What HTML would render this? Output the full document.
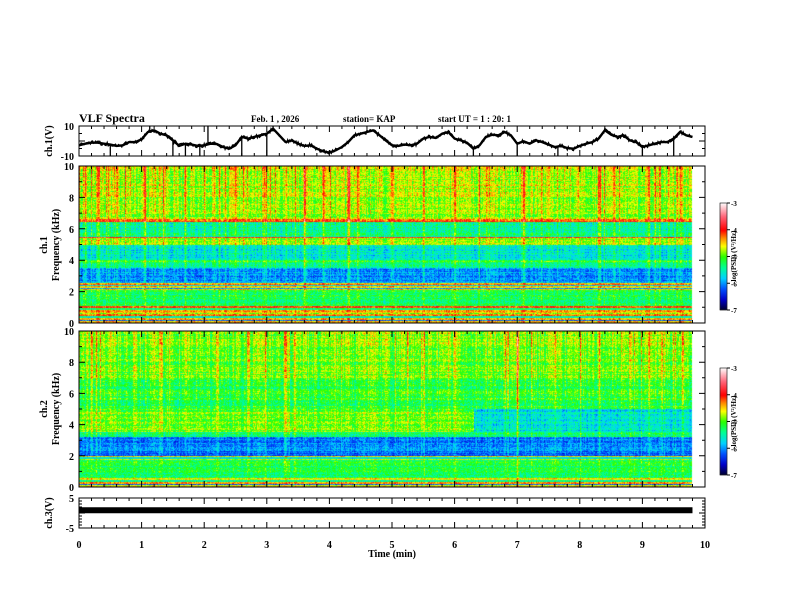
<!DOCTYPE html>
<html><head><meta charset="utf-8"><style>
html,body{margin:0;padding:0;background:#fff;}
#wrap{position:relative;width:792px;height:612px;overflow:hidden;}
canvas,svg{position:absolute;left:0;top:0;}
text{font-family:"Liberation Serif",serif;font-weight:bold;fill:#000;}
</style></head><body>
<div id="wrap">
<canvas id="cv" width="792" height="612"></canvas>
<svg id="sv" width="792" height="612" xmlns="http://www.w3.org/2000/svg">
<text x="79" y="122" font-size="12">VLF Spectra</text>
<text x="251" y="122" font-size="9">Feb. 1 , 2026</text>
<text x="343" y="122" font-size="9">station= KAP</text>
<text x="438" y="122" font-size="9">start UT =  1 : 20: 1</text>
<text transform="translate(52,141) rotate(-90)" text-anchor="middle" font-size="10">ch.1(V)</text>
<text transform="translate(47,245) rotate(-90)" text-anchor="middle" font-size="10">ch.1</text>
<text transform="translate(59,245) rotate(-90)" text-anchor="middle" font-size="10">Frequency (kHz)</text>
<text transform="translate(47,409) rotate(-90)" text-anchor="middle" font-size="10">ch.2</text>
<text transform="translate(59,409) rotate(-90)" text-anchor="middle" font-size="10">Frequency (kHz)</text>
<text transform="translate(52,513) rotate(-90)" text-anchor="middle" font-size="10">ch.3(V)</text>
<text x="392" y="557" text-anchor="middle" font-size="10">Time (min)</text>
<text transform="translate(736,256) rotate(-90)" text-anchor="middle" font-size="7">log(PSD) (V²/Hz)</text>
<text transform="translate(736,421) rotate(-90)" text-anchor="middle" font-size="7">log(PSD) (V²/Hz)</text>
<g id="dyn"></g>
</svg>
</div>
<script>
// ---------- data ----------
const ch1Times = [0,0.1,0.2,0.3,0.4,0.5,0.6,0.7,0.8,0.9,1.0,1.1,1.2,1.3,1.4,1.5,1.6,1.7,1.8,1.9,2.0,2.1,2.2,2.3,2.4,2.5,2.6,2.7,2.8,2.9,3.0,3.1,3.2,3.3,3.4,3.5,3.6,3.7,3.8,3.9,4.0,4.1,4.2,4.3,4.4,4.5,4.6,4.7,4.8,4.9,5.0,5.1,5.2,5.3,5.4,5.5,5.6,5.7,5.8,5.9,6.0,6.1,6.2,6.3,6.4,6.5,6.6,6.7,6.8,6.9,7.0,7.1,7.2,7.3,7.4,7.5,7.6,7.7,7.8,7.9,8.0,8.1,8.2,8.3,8.4,8.5,8.6,8.7,8.8,8.9,9.0,9.1,9.2,9.3,9.4,9.5,9.6,9.7,9.8];
const ch1Volts = [-2.9,-1.8,-1.1,-1.1,-1.8,-2.4,-3.3,-2.9,-0.7,-0.7,1.1,6.0,7.1,4.9,3.8,0.4,-3.3,-1.8,-2.4,-3.3,-2.9,-1.8,-2.0,-4.0,-5.1,-2.9,2.7,1.6,2.7,3.8,4.9,8.2,3.8,-0.7,0.4,-1.8,-3.3,-2.9,-5.1,-6.9,-7.8,-6.2,-4.0,-0.7,3.8,4.9,6.0,7.1,3.8,0.4,-2.9,-3.3,-2.4,-2.9,-1.8,1.6,2.7,2.0,4.9,6.0,1.6,0.4,-1.1,-5.1,-2.9,2.7,4.2,3.8,6.0,3.8,-1.8,-0.2,-1.8,0.4,-0.7,-2.4,-4.0,-3.3,-4.7,-5.1,-3.3,-1.8,-0.7,1.6,7.1,4.2,2.7,3.8,0.4,-0.7,-4.0,-2.9,-1.8,-0.7,-0.7,1.6,6.0,3.8,2.7];
const ch1SpikeTimes = [0.5,1.13,1.5,1.7,1.93,2.06,2.6,3.0,3.1,6.3,7.0,7.65,9.0,9.5];
const ch1SpikeVolts = [-10,10,-10,-10,-10,10,-10,-10,10,-10,-10,-10,-10,-10];
const ch3Times = [0,9.8];
const ch3Volts = [0.9,0.9];
const dataEnd = 9.8;
// spectrogram bands (lower edge kHz, log PSD)
const spec1Edges = [0,0.12,0.22,0.35,0.45,0.55,0.65,0.8,0.95,1.08,2.1,2.18,2.26,2.34,2.45,2.55,3.5,3.8,4.0,5.0,5.4,5.5,6.45,6.6,8.0];
const spec1Vals  = [-4.5,-6.3,-4.4,-5.6,-4.2,-4.9,-4.5,-5.4,-4.1,-5.25,-4.5,-5.9,-4.6,-5.7,-4.4,-6.0,-5.4,-5.15,-5.6,-4.85,-4.15,-5.4,-4.2,-4.85,-4.75];
const spec2Edges = [0,0.1,0.2,0.3,0.42,0.55,1.7,1.8,1.9,2.0,3.2,3.5,5.0,7.0,9.0];
const spec2Vals  = [-4.5,-6.2,-4.3,-5.5,-4.6,-5.25,-4.8,-5.8,-4.5,-6.1,-5.3,-4.95,-5.15,-4.95,-4.85];
const spec2LateStart = 6.3, spec2LateLo = 3.5, spec2LateHi = 5.0, spec2LateVal = -5.7;
const spec1StreakTimes = [0.1,0.3,0.6,1.05,1.35,1.7,2.15,2.5,2.95,3.3,3.6,3.9,4.3,4.45,5.0,5.5,6.0,6.5,7.1,7.5,8.3,8.55,9.1,9.6];
const spec1StreakAmps  = [0.8,0.6,0.5,0.7,0.6,0.6,0.6,0.5,0.7,0.6,0.6,1.0,1.3,0.7,0.6,0.5,0.7,0.6,0.8,0.6,0.6,0.7,0.6,0.7];
const spec2StreakTimes = [0.2,0.9,1.3,1.7,2.2,2.7,3.3,3.45,4.3,4.9,5.5,6.0,6.8,7.0,7.6,8.3,8.8,9.1,9.3];
const spec2StreakAmps  = [0.5,0.5,0.8,0.5,0.7,0.5,1.1,0.7,0.6,0.5,0.6,0.6,0.7,1.1,0.7,0.6,0.5,0.6,0.6];
const xTickLabels = ['0','1','2','3','4','5','6','7','8','9','10'];
const freqTickLabels = ['0','2','4','6','8','10'];
const cbTickLabels = ['-3','-4','-5','-6','-7'];
// ---------- layout ----------
const X0=79,X1=705;
const xs = t => X0 + (X1-X0)*t/10;
const P1={top:126,bot:156,min:-10,max:10};
const S1={top:166,bot:323,min:0,max:10};
const S2={top:331,bot:487,min:0,max:10};
const P3={top:498,bot:528,min:-5,max:5};
const ys=(p,v)=>p.bot-(p.bot-p.top)*(v-p.min)/(p.max-p.min);
const CB1={x:720,w:7,top:203,bot:310};
const CB2={x:720,w:7,top:368,bot:475};

function cmap(v){
  const st=[[-7,[0,0,40]],[-6.6,[0,0,200]],[-6.2,[0,80,255]],[-5.8,[0,210,255]],[-5.4,[0,255,150]],[-5.0,[40,255,0]],[-4.6,[255,255,0]],[-4.3,[255,140,0]],[-4.0,[255,0,0]],[-3.5,[255,100,120]],[-3,[255,250,250]]];
  if(v<=st[0][0])return st[0][1];
  for(let i=1;i<st.length;i++){if(v<=st[i][0]){const a=st[i-1],b=st[i],f=(v-a[0])/(b[0]-a[0]);return [0,1,2].map(k=>a[1][k]+(b[1][k]-a[1][k])*f);}}
  return st[st.length-1][1];
}
function hash(a,b,s){let h=(a*374761393+b*668265263+s*982451653)|0;h=(h^(h>>>13))*1274126177|0;h=h^(h>>>16);return ((h>>>0)%10000)/10000;}
function bandVal(edges,vals,f){let v=vals[0];for(let i=0;i<edges.length;i++){if(f>=edges[i])v=vals[i];}return v;}

const cv=document.getElementById('cv');const ctx=cv.getContext('2d');
function drawSpec(S,edges,vals,sT,sA,seed,late){
  const xEnd=Math.round(xs(dataEnd));const W=xEnd-X0,H=S.bot-S.top;
  const img=ctx.createImageData(W,H);
  const colN=[],colS=[];
  for(let c=0;c<W;c++){
    const t=10*c/(X1-X0);let s=0;
    for(let i=0;i<sT.length;i++){const d=(t-sT[i])/0.02;s+=sA[i]*Math.exp(-d*d);}
    const r=hash(c,7,seed);s+= r>0.85?(r-0.85)*4:0;
    colS.push(s);colN.push((hash(c,3,seed)-0.5)*0.4);
  }
  const rowN=[];for(let r=0;r<H;r++)rowN.push((hash(r,11,seed)-0.5)*0.35);
  for(let r=0;r<H;r++){
    const f=S.max*(H-1-r+0.5)/H;
    for(let c=0;c<W;c++){
      const t=10*c/(X1-X0);
      let v=bandVal(edges,vals,f);
      if(late&&t>=late[0]&&f>=late[1]&&f<late[2])v=late[3];
      v+=colS[c]*(0.25+0.75*f/10)+colN[c]*(0.4+f/10)+rowN[r]+(hash(c,r,seed)-0.5)*0.55;
      const col=cmap(v);const k=(r*W+c)*4;
      img.data[k]=col[0];img.data[k+1]=col[1];img.data[k+2]=col[2];img.data[k+3]=255;
    }
  }
  ctx.putImageData(img,X0,S.top);
}
drawSpec(S1,spec1Edges,spec1Vals,spec1StreakTimes,spec1StreakAmps,1,null);
drawSpec(S2,spec2Edges,spec2Vals,spec2StreakTimes,spec2StreakAmps,2,[spec2LateStart,spec2LateLo,spec2LateHi,spec2LateVal]);
function drawCB(cb){for(let y=cb.top;y<cb.bot;y++){const v=-3-4*(y-cb.top)/(cb.bot-cb.top);const c=cmap(v);ctx.fillStyle=`rgb(${c[0]|0},${c[1]|0},${c[2]|0})`;ctx.fillRect(cb.x,y,cb.w,1);}}
drawCB(CB1);drawCB(CB2);

// ---------- svg ----------
const NS='http://www.w3.org/2000/svg';const g=document.getElementById('dyn');
function el(tag,attrs){const e=document.createElementNS(NS,tag);for(const k in attrs)e.setAttribute(k,attrs[k]);g.appendChild(e);return e;}
function frame(p,name,yMajor,yMinor,labels){
  const r=el('rect',{x:X0,y:p.top,width:X1-X0,height:p.bot-p.top,fill:'none',stroke:'#000','stroke-width':1});
  
  
  let d='';
  for(let i=0;i<=50;i++){const x=xs(i*0.2),L=i%5===0?6:3;d+=`M${x},${p.bot}v${-L}M${x},${p.top}v${L}`;}
  for(let v=p.min;v<=p.max+1e-9;v+=yMinor){const y=ys(p,v),L=Math.abs(v/yMajor-Math.round(v/yMajor))<1e-6?6:3;d+=`M${X0},${y}h${L}M${X1},${y}h${-L}`;}
  const pth=el('path',{d:d,stroke:'#000','stroke-width':1,fill:'none'});
  
  
  labels.forEach(([v,s])=>{const tx=el('text',{x:X0-5,y:ys(p,v)+4,'text-anchor':'end','font-size':10});tx.textContent=s;
    
    });
}
frame(P1,'ch1-voltage',20,5,[[10,'10'],[-10,'-10']]);
frame(S1,'ch1-spectrogram',2,1,freqTickLabels.map((s,i)=>[i*2,s]));
frame(S2,'ch2-spectrogram',2,1,freqTickLabels.map((s,i)=>[i*2,s]));
frame(P3,'ch3-voltage',5,1,[[5,'5'],[-5,'-5']]);
xTickLabels.forEach((s,i)=>{const t=el('text',{x:xs(i),y:548,'text-anchor':'middle','font-size':10});t.textContent=s;
  
  });
// ch1 trace: data polyline plus a jagged sub-sampled rendering texture
let d1='';ch1Times.forEach((t,i)=>{d1+=(i?'L':'M')+xs(t).toFixed(1)+','+ys(P1,ch1Volts[i]).toFixed(1);});
const tr=el('path',{d:d1,stroke:'#000','stroke-width':2.4,fill:'none','stroke-linejoin':'round'});


let dj='';
for(let i=0;i<ch1Times.length-1;i++){
  const xa=xs(ch1Times[i]),xb=xs(ch1Times[i+1]),ya=ys(P1,ch1Volts[i]),yb=ys(P1,ch1Volts[i+1]);
  for(let k=0;k<6;k++){const f=k/6;const x=xa+(xb-xa)*f,y=ya+(yb-ya)*f+(hash(i,k,5)-0.5)*4;dj+=(dj?'L':'M')+x.toFixed(1)+','+y.toFixed(1);}
}
const jt=el('path',{d:dj,stroke:'#000','stroke-width':1.2,fill:'none'});


ch1SpikeTimes.forEach((t,i)=>{
  const k=Math.min(ch1Times.length-1,Math.round(t*10));
  const sp=el('line',{x1:xs(t),x2:xs(t),y1:ys(P1,ch1Volts[k]),y2:ys(P1,ch1SpikeVolts[i]),stroke:'#000','stroke-width':1.3});
  
  
});
// ch3 trace
const t3=el('line',{x1:xs(ch3Times[0]),x2:xs(ch3Times[1]),y1:ys(P3,ch3Volts[0]),y2:ys(P3,ch3Volts[1]),stroke:'#000','stroke-width':6});


// colorbars
[CB1,CB2].forEach((cb,j)=>{
  const r=el('rect',{x:cb.x,y:cb.top,width:cb.w,height:cb.bot-cb.top,fill:'none',stroke:'#000','stroke-width':0.6});
  
  
  cbTickLabels.forEach((s,i)=>{const y=cb.top+(cb.bot-cb.top)*i/4;
    el('line',{x1:cb.x+cb.w,x2:cb.x+cb.w+3,y1:y,y2:y,stroke:'#000','stroke-width':1});
    const tx=el('text',{x:cb.x+cb.w+4,y:y+3,'font-size':7});tx.textContent=s;
    
    });
});
</script>
</body></html>
